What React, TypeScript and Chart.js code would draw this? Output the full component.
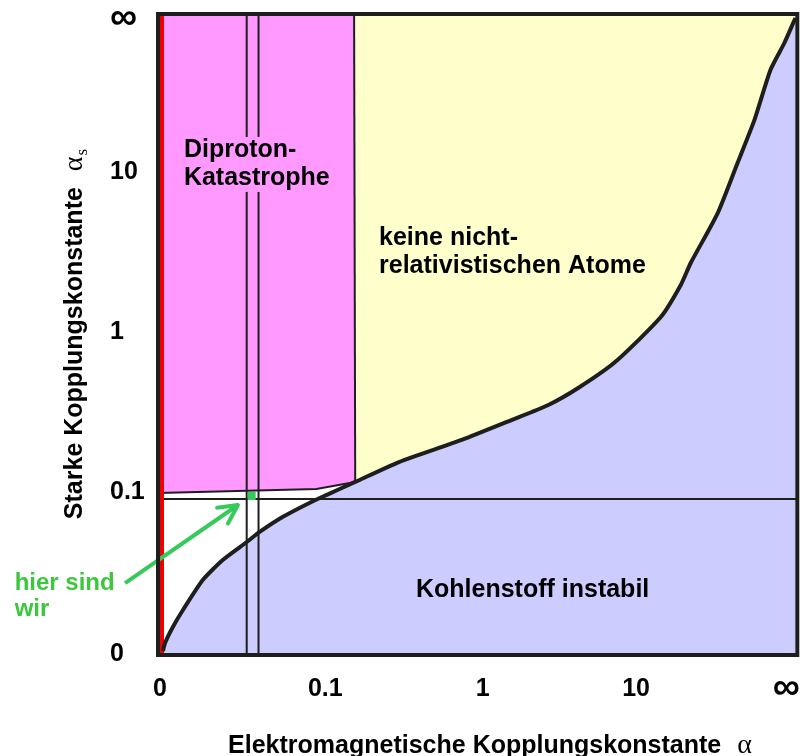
import React, { useEffect, useRef } from 'react';
import { Chart, registerables } from 'chart.js';

Chart.register(...registerables);

const SANS = '"Liberation Sans", Arial, Helvetica, sans-serif';
const SERIF = '"Liberation Serif", "Times New Roman", serif';

// Compactified axes: 0 ... 0.1 ... 1 ... 10 ... infinity mapped onto 0..4
const xTickPos = [0.012, 1.047, 2.031, 2.991, 3.931];
const xTickLabels = ['0', '0.1', '1', '10', '∞'];
const yTickPos = [0.006, 1.017, 2.016, 3.014, 3.97];
const yTickLabels = ['0', '0.1', '1', '10', '∞'];

// Boundary curve (carbon instability / no non-relativistic atoms)
const curveX = [0.031, 0.044, 0.093, 0.156, 0.28, 0.405, 0.555, 0.636, 0.779, 0.947, 1.053, 1.234, 1.508, 1.9, 2.212, 2.442, 2.629, 2.86, 3.146, 3.271, 3.333, 3.502, 3.626, 3.732, 3.832, 3.919, 3.988];
const curveY = [0.025, 0.075, 0.175, 0.281, 0.468, 0.593, 0.705, 0.768, 0.861, 0.949, 0.998, 1.08, 1.204, 1.342, 1.466, 1.56, 1.666, 1.828, 2.109, 2.309, 2.446, 2.758, 3.07, 3.339, 3.651, 3.819, 3.975];

// Diproton catastrophe region boundaries
const diprotonBottomX = [0, 0.991, 1.234];
const diprotonBottomY = [1.011, 1.036, 1.08];
const diprotonRightX = [1.234, 1.227];
const diprotonRightY = [1.08, 4];

// Reference lines
const strongLineY = 0.973; // alpha_s ~ 0.1 line
const emLinesX = [0.555, 0.629]; // alpha ~ 1/137 band
const redLineX = 0.025;

// "we are here"
const herePoint = { x: 0.586, y: 0.992 };
const arrowX = [-0.206, 0.5];
const arrowY = [0.449, 0.936];

const MAGENTA = '#FF99FF';
const YELLOW = '#FFFFCC';
const BLUE = '#CCCCFF';
const INK = '#1e1e1e';
const GREEN = '#36c95c';

const notes = [
  { lines: ['Diproton-', 'Katastrophe'], x: 0.162, y: 3.108, size: 25, lh: 28, color: '#000', bg: MAGENTA },
  { lines: ['keine nicht-', 'relativistischen Atome'], x: 1.383, y: 2.558, size: 25, lh: 28, color: '#000', bg: null },
  { lines: ['Kohlenstoff instabil'], x: 1.614, y: 0.362, size: 25, lh: 0, color: '#000', bg: null },
  { lines: ['hier sind', 'wir'], x: -0.897, y: 0.406, size: 24, lh: 26, color: '#3cc83c', bg: null },
];

const pts = (xs: number[], ys: number[]) => xs.map((x, i) => ({ x, y: ys[i] }));

const overlay = {
  id: 'overlay',
  afterDraw(chart: any) {
    const { ctx, chartArea: a, scales } = chart;
    const X = (v: number) => scales.x.getPixelForValue(v);
    const Y = (v: number) => scales.y.getPixelForValue(v);
    ctx.save();

    // arrow head
    const x1 = X(arrowX[0]), y1 = Y(arrowY[0]);
    const x2 = X(arrowX[1]), y2 = Y(arrowY[1]);
    const ang = Math.atan2(y2 - y1, x2 - x1);
    const L = 21, sp = 0.47;
    ctx.strokeStyle = GREEN;
    ctx.lineWidth = 4;
    ctx.lineCap = 'round';
    ctx.lineJoin = 'round';
    ctx.beginPath();
    ctx.moveTo(x2 - L * Math.cos(ang - sp), y2 - L * Math.sin(ang - sp));
    ctx.lineTo(x2, y2);
    ctx.lineTo(x2 - L * Math.cos(ang + sp), y2 - L * Math.sin(ang + sp));
    ctx.stroke();

    // annotations
    ctx.textAlign = 'left';
    ctx.textBaseline = 'alphabetic';
    for (const n of notes) {
      ctx.font = `bold ${n.size}px ${SANS}`;
      const x = X(n.x), y0 = Y(n.y);
      if (n.bg) {
        const w = Math.max(...n.lines.map((l) => ctx.measureText(l).width));
        ctx.fillStyle = n.bg;
        ctx.fillRect(x - 3, y0 - n.size * 0.8, w + 6, n.lh * (n.lines.length - 1) + n.size * 1.08);
      }
      ctx.fillStyle = n.color;
      n.lines.forEach((l, i) => ctx.fillText(l, x, y0 + i * n.lh));
    }

    // frame
    ctx.strokeStyle = INK;
    ctx.lineWidth = 4;
    ctx.lineCap = 'butt';
    ctx.lineJoin = 'miter';
    ctx.strokeRect(a.left, a.top, a.right - a.left, a.bottom - a.top);

    // x title
    ctx.fillStyle = '#000';
    const xt = 'Elektromagnetische Kopplungskonstante';
    ctx.font = `bold 25px ${SANS}`;
    const xw = ctx.measureText(xt).width;
    ctx.font = `28px ${SERIF}`;
    const aw = ctx.measureText('α').width;
    const gap = 16;
    const xs = 490 - (xw + gap + aw) / 2;
    ctx.font = `bold 25px ${SANS}`;
    ctx.fillText(xt, xs, 753);
    ctx.font = `28px ${SERIF}`;
    ctx.fillText('α', xs + xw + gap, 753);

    // y title (rotated)
    const yt = 'Starke Kopplungskonstante';
    ctx.font = `bold 25px ${SANS}`;
    const yw = ctx.measureText(yt).width;
    ctx.font = `17px ${SERIF}`;
    const sw = ctx.measureText('s').width;
    const total = yw + gap + aw + sw;
    const cy = (a.top + a.bottom) / 2;
    ctx.translate(82, cy + total / 2);
    ctx.rotate(-Math.PI / 2);
    ctx.font = `bold 25px ${SANS}`;
    ctx.fillText(yt, 0, 0);
    ctx.font = `28px ${SERIF}`;
    ctx.fillText('α', yw + gap, 0);
    ctx.font = `17px ${SERIF}`;
    ctx.fillText('s', yw + gap + aw + 1, 5);
    ctx.restore();
  },
};

export default function App() {
  const ref = useRef<HTMLCanvasElement>(null);
  useEffect(() => {
    const prev = document.body.style.margin;
    document.body.style.margin = '0';
    const tickFont = (big: boolean, lh: number) => (big
      ? { family: SANS, size: 38, weight: 'bold', lineHeight: lh / 38 }
      : { family: SANS, size: 25, weight: 'bold', lineHeight: lh / 25 });
    const line = (data: any[], extra: any) => ({
      data,
      pointRadius: 0,
      pointHoverRadius: 0,
      borderColor: INK,
      borderWidth: 2,
      fill: false,
      tension: 0,
      ...extra,
    });
    const chart = new Chart(ref.current as HTMLCanvasElement, {
      type: 'line',
      data: {
        datasets: [
          line(pts(arrowX, arrowY), { borderColor: GREEN, borderWidth: 4, clip: false, order: 0 }),
          {
            data: [herePoint],
            showLine: false,
            pointRadius: 5.7,
            pointHoverRadius: 5.7,
            pointStyle: 'rect',
            pointBackgroundColor: GREEN,
            pointBorderWidth: 0,
            order: 0,
          },
          line(pts(curveX, curveY), { borderWidth: 4, fill: 'start', backgroundColor: BLUE, tension: 0.2, order: 1 }),
          line([{ x: redLineX, y: 0 }, { x: redLineX, y: 4 }], { borderColor: '#ee0000', borderWidth: 4, order: 2 }),
          line([{ x: 0, y: strongLineY }, { x: 4, y: strongLineY }], { order: 3 }),
          line([{ x: emLinesX[0], y: 0 }, { x: emLinesX[0], y: 4 }], { order: 3 }),
          line([{ x: emLinesX[1], y: 0 }, { x: emLinesX[1], y: 4 }], { order: 3 }),
          line(pts(diprotonBottomX, diprotonBottomY), { fill: 'end', backgroundColor: MAGENTA, order: 4 }),
          line(pts(diprotonRightX, diprotonRightY), { order: 4 }),
          line(pts(curveX.filter((x) => x >= 1.234), curveY.filter((_, i) => curveX[i] >= 1.234)), {
            borderWidth: 0, fill: 'end', backgroundColor: YELLOW, tension: 0.2, order: 5,
          }),
        ],
      },
      options: {
        animation: false,
        responsive: false,
        events: [],
        layout: { padding: { left: 110, top: 14, right: 3, bottom: 0 } },
        plugins: {
          legend: { display: false },
          tooltip: { enabled: false },
          filler: { drawTime: 'beforeDatasetsDraw' },
        },
        scales: {
          x: {
            type: 'linear',
            min: 0,
            max: 4,
            grid: { display: false, drawTicks: false },
            border: { display: false },
            afterBuildTicks: (s: any) => { s.ticks = xTickPos.map((v) => ({ value: v })); },
            afterFit: (s: any) => { s.height = 101; },
            ticks: {
              autoSkip: false,
              maxRotation: 0,
              padding: 0,
              color: '#000',
              font: (c: any) => tickFont(c.index === 4, 68),
              callback: (_v: any, i: number) => xTickLabels[i],
            },
          },
          y: {
            type: 'linear',
            min: 0,
            max: 4,
            grid: { display: false, drawTicks: false },
            border: { display: false },
            afterBuildTicks: (s: any) => { s.ticks = yTickPos.map((v) => ({ value: v })); },
            afterFit: (s: any) => { s.width = 48; },
            ticks: {
              autoSkip: false,
              padding: 0,
              crossAlign: 'far',
              color: '#000',
              font: (c: any) => tickFont(c.index === 4, 27),
              callback: (_v: any, i: number) => yTickLabels[i],
            },
          },
        },
      } as any,
      plugins: [overlay],
    } as any);
    return () => {
      chart.destroy();
      document.body.style.margin = prev;
    };
  }, []);
  return (
    <div style={{ position: 'absolute', left: 0, top: 0, width: 803, height: 756, background: '#fff' }}>
      <canvas ref={ref} width={803} height={756} style={{ display: 'block', width: 803, height: 756 }} />
    </div>
  );
}
